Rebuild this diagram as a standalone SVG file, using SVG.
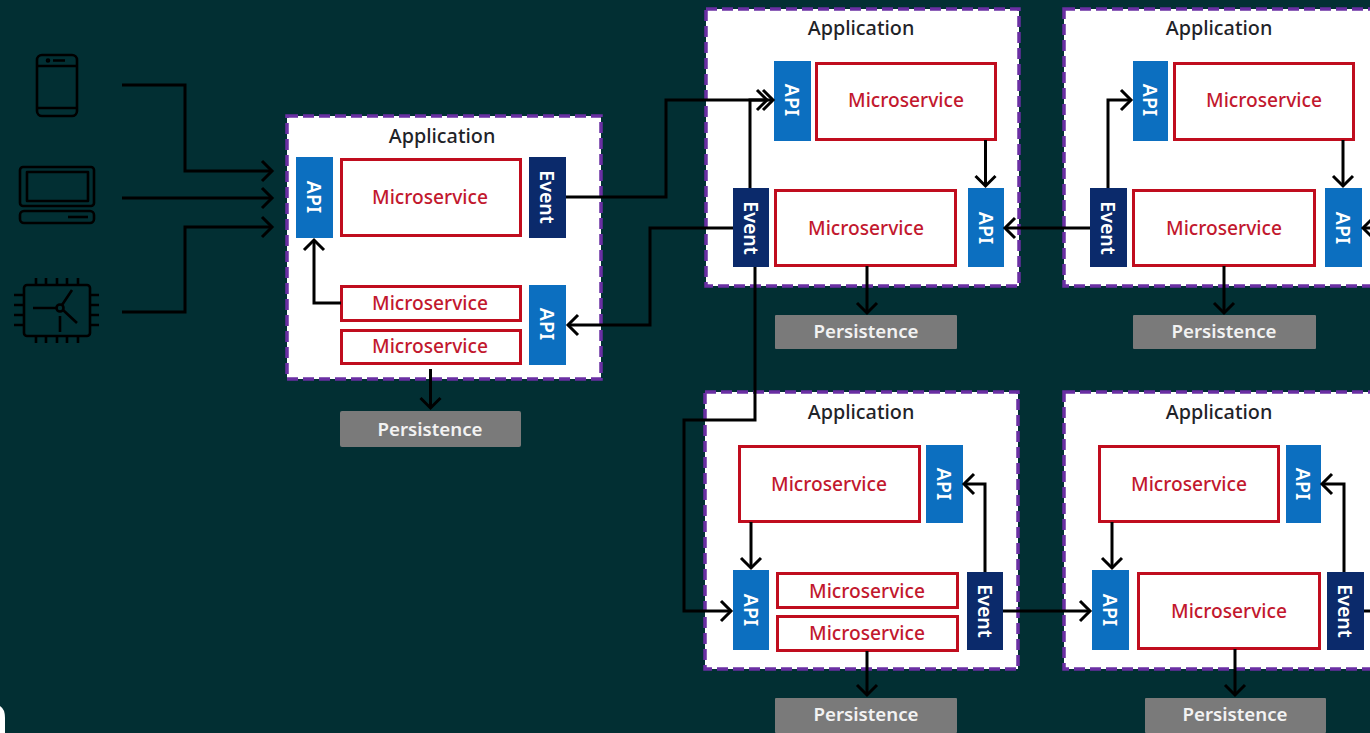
<svg xmlns="http://www.w3.org/2000/svg" width="1370" height="733" viewBox="0 0 1370 733">
<style>
text{font-family:"Noto Sans","Open Sans","Liberation Sans",sans-serif;text-anchor:middle;dominant-baseline:central}
.app{fill:#fff;stroke:#6a2fa3;stroke-width:3.5;stroke-dasharray:11 5}
.apptitle{fill:#1f2328;font-size:19.8px;font-weight:500}
.ms{fill:#fff;stroke:#c00d1e;stroke-width:3}
.mst{fill:#c2182e;font-size:19.2px;font-weight:500}
.api{fill:#0c6fc0}
.evt{fill:#0b2a6b}
.vt{fill:#fff;font-size:19.5px;font-weight:600}
.per{fill:#7a7a7a}
.pert{fill:#f2f2f2;font-size:18.7px;font-weight:600}
.c{fill:none;stroke:#000;stroke-width:3}
.a{marker-end:url(#h)}
.i{fill:none;stroke:#000;stroke-width:2.6;stroke-linejoin:round}
</style>
<defs>
<marker id="h" markerUnits="userSpaceOnUse" markerWidth="24" markerHeight="26" refX="13" refY="13" orient="auto">
<path d="M3 3 L13 13 L3 23" fill="none" stroke="#000" stroke-width="3"/>
</marker>
</defs>
<rect width="1370" height="733" fill="#022f33"/>
<path d="M0 706 Q5 709 5 718 V733 H0Z" fill="#fff"/>

<g id="phone" class="i">
<rect x="37" y="55" width="40" height="61" rx="5"/><path d="M37 66H77M37 108H77M53 60.500H65"/><circle cx="48" cy="60.500" r="1"/>
</g>
<g id="laptop" class="i">
<rect x="20" y="167" width="74" height="39" rx="3"/><rect x="27" y="172" width="61" height="29"/><rect x="20" y="211" width="74" height="12" rx="4"/><path d="M68 217H88"/>
</g>
<g id="chip" class="i">
<rect x="24" y="285" width="66" height="51" rx="3"/>
<path d="M36 278V285M46 278V285M57 278V285M67 278V285M78 278V285M36 336V343M46 336V343M57 336V343M67 336V343M78 336V343M14 295H24M14 305H24M14 315H24M14 325H24M90 295H99M90 305H99M90 315H99M90 325H99"/>
<circle cx="60" cy="308" r="3.500"/><path d="M33 308H56M62 305L72 290M63 310L77 323M60 316V332"/>
</g>

<g id="app1">
<rect class="app" x="287" y="116" width="314" height="263"/>
<text class="apptitle" x="442" y="135">Application</text>
<rect class="api" x="296" y="157" width="37" height="81"/><text class="vt" transform="translate(314 197) rotate(90)">API</text>
<rect class="ms" x="341.500" y="159.500" width="179" height="76"/><text class="mst" x="430" y="196">Microservice</text>
<rect class="evt" x="529" y="157" width="37" height="81"/><text class="vt" transform="translate(547 197) rotate(90)">Event</text>
<rect class="ms" x="341.500" y="286.500" width="179" height="34"/><text class="mst" x="430" y="302">Microservice</text>
<rect class="ms" x="341.500" y="330.500" width="179" height="33"/><text class="mst" x="430" y="345">Microservice</text>
<rect class="api" x="529" y="285" width="37" height="80"/><text class="vt" transform="translate(547 324) rotate(90)">API</text>
</g>
<g id="persistence1"><rect class="per" x="340" y="411" width="181" height="36" rx="2"/><text class="pert" x="430" y="428">Persistence</text></g>

<g id="app2">
<rect class="app" x="706" y="9" width="313" height="277"/>
<text class="apptitle" x="861" y="27">Application</text>
<rect class="api" x="774" y="61" width="37" height="80"/><text class="vt" transform="translate(792 100) rotate(90)">API</text>
<rect class="ms" x="816.500" y="63.500" width="179" height="76"/><text class="mst" x="906" y="99">Microservice</text>
<rect class="evt" x="733" y="188" width="36" height="79"/><text class="vt" transform="translate(751 228) rotate(90)">Event</text>
<rect class="ms" x="775.500" y="190.500" width="180" height="75"/><text class="mst" x="866" y="227">Microservice</text>
<rect class="api" x="968" y="188" width="36" height="79"/><text class="vt" transform="translate(986 228) rotate(90)">API</text>
</g>
<g id="persistence2"><rect class="per" x="775" y="315" width="182" height="34" rx="1"/><text class="pert" x="866" y="330">Persistence</text></g>

<g id="app3">
<rect class="app" x="1064" y="9" width="320" height="277"/>
<text class="apptitle" x="1219" y="27">Application</text>
<rect class="api" x="1133" y="61" width="35" height="80"/><text class="vt" transform="translate(1150 100) rotate(90)">API</text>
<rect class="ms" x="1174.500" y="63.500" width="179" height="76"/><text class="mst" x="1264" y="99">Microservice</text>
<rect class="evt" x="1090" y="188" width="37" height="79"/><text class="vt" transform="translate(1108 228) rotate(90)">Event</text>
<rect class="ms" x="1133.500" y="190.500" width="181" height="75"/><text class="mst" x="1224" y="227">Microservice</text>
<rect class="api" x="1325" y="188" width="37" height="79"/><text class="vt" transform="translate(1343 228) rotate(90)">API</text>
</g>
<g id="persistence3"><rect class="per" x="1133" y="315" width="183" height="34" rx="1"/><text class="pert" x="1224" y="330">Persistence</text></g>

<g id="app4">
<rect class="app" x="705" y="392" width="313" height="277"/>
<text class="apptitle" x="861" y="411">Application</text>
<rect class="ms" x="739.500" y="446.500" width="180" height="75"/><text class="mst" x="829" y="483">Microservice</text>
<rect class="api" x="926" y="445" width="37" height="78"/><text class="vt" transform="translate(944 484) rotate(90)">API</text>
<rect class="api" x="733" y="570" width="36" height="80"/><text class="vt" transform="translate(751 610) rotate(90)">API</text>
<rect class="ms" x="777.500" y="573.500" width="180" height="34"/><text class="mst" x="867" y="590">Microservice</text>
<rect class="ms" x="777.500" y="616.500" width="180" height="34"/><text class="mst" x="867" y="632">Microservice</text>
<rect class="evt" x="967" y="572" width="36" height="78"/><text class="vt" transform="translate(985 611) rotate(90)">Event</text>
</g>
<g id="persistence4"><rect class="per" x="775" y="698" width="182" height="35" rx="1"/><text class="pert" x="866" y="713">Persistence</text></g>

<g id="app5">
<rect class="app" x="1064" y="392" width="320" height="277"/>
<text class="apptitle" x="1219" y="411">Application</text>
<rect class="ms" x="1099.500" y="446.500" width="179" height="75"/><text class="mst" x="1189" y="483">Microservice</text>
<rect class="api" x="1286" y="445" width="35" height="78"/><text class="vt" transform="translate(1303 484) rotate(90)">API</text>
<rect class="api" x="1092" y="570" width="37" height="80"/><text class="vt" transform="translate(1110 610) rotate(90)">API</text>
<rect class="ms" x="1138.500" y="573.500" width="181" height="75"/><text class="mst" x="1229" y="610">Microservice</text>
<rect class="evt" x="1327" y="572" width="37" height="78"/><text class="vt" transform="translate(1345 611) rotate(90)">Event</text>
</g>
<g id="persistence5"><rect class="per" x="1145" y="698" width="181" height="35" rx="1"/><text class="pert" x="1235" y="713">Persistence</text></g>

<g id="connectors" class="c">
<path class="a" d="M122 85H185V171H272"/>
<path class="a" d="M122 198H272"/>
<path class="a" d="M122 312H185V227H272"/>
<path class="a" d="M566 197H666V100H767"/>
<path class="a" d="M750 188V100H773"/>
<path class="a" d="M733 228H650V325H568"/>
<path class="a" d="M341 303H314V240"/>
<path class="a" d="M430.500 369V408"/>
<path class="a" d="M985.500 140V186"/>
<path class="a" d="M1090 228H1005"/>
<path class="a" d="M867 266V313"/>
<path class="a" d="M755 267V420H684V611H731"/>
<path class="a" d="M1108 188V100H1131"/>
<path class="a" d="M1343 140V186"/>
<path class="a" d="M1385 228H1363"/>
<path class="a" d="M1224 266V313"/>
<path class="a" d="M751 522V568"/>
<path class="a" d="M985 572V484H964"/>
<path class="a" d="M1003 611H1090"/>
<path class="a" d="M867 651V695"/>
<path class="a" d="M1112 522V568"/>
<path class="a" d="M1344 572V484H1322"/>
<path d="M1364 611H1372"/>
<path class="a" d="M1235 649V695"/>
</g>
</svg>
